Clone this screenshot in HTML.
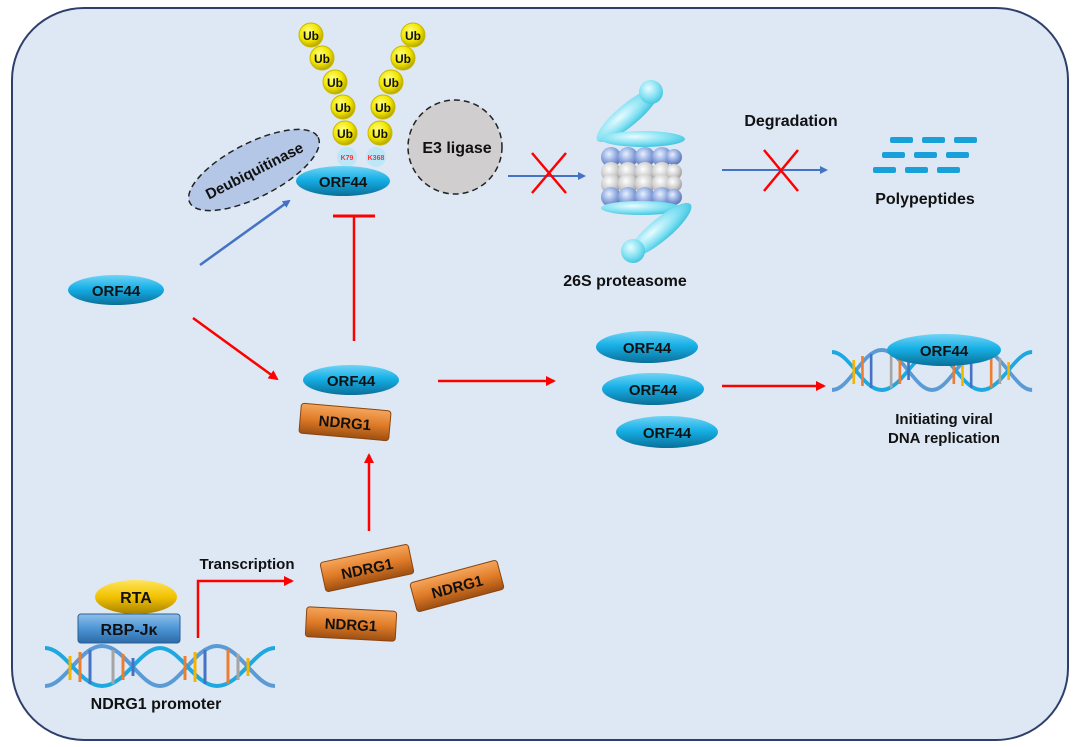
<!DOCTYPE html>
<html><head><meta charset="utf-8"><style>
html,body{margin:0;padding:0;background:#fff}
svg{display:block}
text{font-family:"Liberation Sans",Arial,sans-serif;font-weight:bold}
</style></head><body>
<svg width="1080" height="747" viewBox="0 0 1080 747" xmlns="http://www.w3.org/2000/svg">
<defs>
<radialGradient id="ub" cx="40%" cy="35%" r="65%"><stop offset="0" stop-color="#ffff80"/><stop offset="0.6" stop-color="#f2e600"/><stop offset="1" stop-color="#b8a800"/></radialGradient>
<linearGradient id="orf" x1="0" y1="0" x2="0" y2="1"><stop offset="0" stop-color="#6fd3f5"/><stop offset="0.45" stop-color="#17b0e6"/><stop offset="1" stop-color="#0a6f99"/></linearGradient>
<linearGradient id="nd" x1="0" y1="0" x2="0" y2="1"><stop offset="0" stop-color="#f5a55c"/><stop offset="0.5" stop-color="#e07b28"/><stop offset="1" stop-color="#9c4f12"/></linearGradient>
<linearGradient id="rta" x1="0" y1="0" x2="0" y2="1"><stop offset="0" stop-color="#ffe45c"/><stop offset="0.5" stop-color="#f2c200"/><stop offset="1" stop-color="#a88200"/></linearGradient>
<linearGradient id="rbp" x1="0" y1="0" x2="0" y2="1"><stop offset="0" stop-color="#8fc0ea"/><stop offset="0.5" stop-color="#4d95d6"/><stop offset="1" stop-color="#2c6aa6"/></linearGradient>
<radialGradient id="ball" cx="40%" cy="35%" r="65%"><stop offset="0" stop-color="#e8f0ff"/><stop offset="0.6" stop-color="#8ca6dd"/><stop offset="1" stop-color="#5e78b8"/></radialGradient>
<radialGradient id="gball" cx="40%" cy="35%" r="65%"><stop offset="0" stop-color="#ffffff"/><stop offset="0.6" stop-color="#d0d0d0"/><stop offset="1" stop-color="#a0a0a0"/></radialGradient>
<radialGradient id="cy" cx="40%" cy="35%" r="70%"><stop offset="0" stop-color="#e8fbff"/><stop offset="0.6" stop-color="#7fe0f2"/><stop offset="1" stop-color="#3cc2dd"/></radialGradient>
<marker id="ab" markerWidth="8" markerHeight="8" refX="6" refY="4" orient="auto" markerUnits="userSpaceOnUse"><path d="M0,0 L8,4 L0,8 Z" fill="#4472c4"/></marker>
<marker id="ar" markerWidth="10" markerHeight="10" refX="8" refY="5" orient="auto" markerUnits="userSpaceOnUse"><path d="M0,0 L10,5 L0,10 Z" fill="#ff0000"/></marker>
<g id="dna">
 <path d="M0,40 C20,40 35,0 57,0 C80,0 95,40 115,40 C135,40 150,0 172,0 C195,0 210,40 230,40" fill="none" stroke="#5b9bd5" stroke-width="4"/>
 <path d="M0,2 C20,2 35,40 57,40 C80,40 95,2 115,2 C135,2 150,40 172,40 C195,40 210,2 230,2" fill="none" stroke="#1fa8e0" stroke-width="4"/>
 <g stroke-width="3">
  <line x1="25" y1="10" x2="25" y2="34" stroke="#f4b400"/><line x1="35" y1="6" x2="35" y2="36" stroke="#ed7d31"/>
  <line x1="45" y1="4" x2="45" y2="38" stroke="#4472c4"/><line x1="68" y1="4" x2="68" y2="38" stroke="#a5a5a5"/>
  <line x1="78" y1="8" x2="78" y2="34" stroke="#ed7d31"/><line x1="88" y1="12" x2="88" y2="30" stroke="#4472c4"/>
  <line x1="140" y1="10" x2="140" y2="34" stroke="#ed7d31"/><line x1="150" y1="6" x2="150" y2="36" stroke="#f4b400"/>
  <line x1="160" y1="4" x2="160" y2="38" stroke="#4472c4"/><line x1="183" y1="4" x2="183" y2="38" stroke="#ed7d31"/>
  <line x1="193" y1="8" x2="193" y2="34" stroke="#a5a5a5"/><line x1="203" y1="12" x2="203" y2="30" stroke="#f4b400"/>
 </g>
</g>
</defs>
<rect x="12" y="8" width="1056" height="732" rx="72" fill="#dde8f4" stroke="#2f3f6b" stroke-width="2"/>

<!-- Ub chains -->
<g font-size="12" text-anchor="middle">
<g fill="url(#ub)" stroke="#c9b800" stroke-width="1">
<circle cx="311" cy="35" r="12"/><circle cx="322" cy="58" r="12"/><circle cx="335" cy="82" r="12"/><circle cx="343" cy="107" r="12"/><circle cx="345" cy="133" r="12"/>
<circle cx="413" cy="35" r="12"/><circle cx="403" cy="58" r="12"/><circle cx="391" cy="82" r="12"/><circle cx="383" cy="107" r="12"/><circle cx="380" cy="133" r="12"/>
</g>
<g fill="#111">
<text x="311" y="40">Ub</text><text x="322" y="63">Ub</text><text x="335" y="87">Ub</text><text x="343" y="112">Ub</text><text x="345" y="138">Ub</text>
<text x="413" y="40">Ub</text><text x="403" y="63">Ub</text><text x="391" y="87">Ub</text><text x="383" y="112">Ub</text><text x="380" y="138">Ub</text>
</g>
</g>
<!-- deubiquitinase -->
<ellipse cx="254" cy="170" rx="72" ry="27" transform="rotate(-27 254 170)" fill="#b4c7e7" stroke="#222" stroke-width="1.5" stroke-dasharray="6,4"/>
<text x="254" y="176" font-size="15" text-anchor="middle" fill="#111" transform="rotate(-27 254 170)">Deubiquitinase</text>
<circle cx="455" cy="147" r="47" fill="#d0cece" stroke="#222" stroke-width="1.5" stroke-dasharray="6,4"/>
<text x="457" y="153" font-size="16" text-anchor="middle" fill="#111">E3 ligase</text>
<circle cx="347" cy="157" r="10" fill="#bfe6f7"/><circle cx="376" cy="157" r="10" fill="#bfe6f7"/>
<ellipse cx="343" cy="181" rx="47" ry="15" fill="url(#orf)"/>
<text x="347" y="160" font-size="7" fill="#ff3030" text-anchor="middle">K79</text>
<text x="376" y="160" font-size="7" fill="#ff3030" text-anchor="middle">K368</text>
<text x="343" y="187" font-size="15" text-anchor="middle" fill="#111">ORF44</text>

<!-- arrows top -->
<line x1="200" y1="265" x2="289" y2="201" stroke="#4472c4" stroke-width="2.5" marker-end="url(#ab)"/>
<line x1="354" y1="341" x2="354" y2="216" stroke="#ff0000" stroke-width="2.5"/>
<line x1="333" y1="216" x2="375" y2="216" stroke="#ff0000" stroke-width="3"/>
<line x1="508" y1="176" x2="584" y2="176" stroke="#4472c4" stroke-width="2" marker-end="url(#ab)"/>
<path d="M532,153 L566,193 M566,153 L532,193" stroke="#ff0000" stroke-width="2.5"/>
<line x1="722" y1="170" x2="826" y2="170" stroke="#4472c4" stroke-width="2" marker-end="url(#ab)"/>
<path d="M764,150 L798,191 M798,150 L764,191" stroke="#ff0000" stroke-width="2.5"/>

<!-- proteasome -->
<ellipse cx="628" cy="115" rx="40" ry="11" transform="rotate(-40 628 115)" fill="url(#cy)"/>
<circle cx="651" cy="92" r="12" fill="url(#cy)"/>
<ellipse cx="643" cy="139" rx="42" ry="8" fill="url(#cy)"/>
<g fill="url(#ball)">
<circle cx="611" cy="157" r="10"/><circle cx="628" cy="157" r="10"/><circle cx="645" cy="157" r="10"/><circle cx="662" cy="157" r="10"/><circle cx="674" cy="157" r="8"/>
</g>
<g fill="url(#gball)">
<circle cx="611" cy="172" r="10"/><circle cx="628" cy="172" r="10"/><circle cx="645" cy="172" r="10"/><circle cx="662" cy="172" r="10"/><circle cx="674" cy="172" r="8"/>
<circle cx="611" cy="184" r="10"/><circle cx="628" cy="184" r="10"/><circle cx="645" cy="184" r="10"/><circle cx="662" cy="184" r="10"/><circle cx="674" cy="184" r="8"/>
</g>
<g fill="url(#ball)">
<circle cx="611" cy="197" r="10"/><circle cx="628" cy="197" r="10"/><circle cx="645" cy="197" r="10"/><circle cx="662" cy="197" r="10"/><circle cx="674" cy="197" r="8"/>
</g>
<ellipse cx="641" cy="208" rx="40" ry="7" fill="url(#cy)"/>
<ellipse cx="660" cy="230" rx="40" ry="11" transform="rotate(-40 660 230)" fill="url(#cy)"/>
<circle cx="633" cy="251" r="12" fill="url(#cy)"/>
<text x="625" y="286" font-size="16" text-anchor="middle" fill="#111">26S  proteasome</text>
<text x="791" y="126" font-size="16" text-anchor="middle" fill="#111">Degradation</text>
<g fill="#1aa0d8">
<rect x="890" y="137" width="23" height="6" rx="2"/><rect x="922" y="137" width="23" height="6" rx="2"/><rect x="954" y="137" width="23" height="6" rx="2"/>
<rect x="882" y="152" width="23" height="6" rx="2"/><rect x="914" y="152" width="23" height="6" rx="2"/><rect x="946" y="152" width="23" height="6" rx="2"/>
<rect x="873" y="167" width="23" height="6" rx="2"/><rect x="905" y="167" width="23" height="6" rx="2"/><rect x="937" y="167" width="23" height="6" rx="2"/>
</g>
<text x="925" y="204" font-size="16" text-anchor="middle" fill="#111">Polypeptides</text>

<!-- left ORF44 -->
<ellipse cx="116" cy="290" rx="48" ry="15" fill="url(#orf)"/>
<text x="116" y="296" font-size="15" text-anchor="middle" fill="#111">ORF44</text>
<line x1="193" y1="318" x2="277" y2="379" stroke="#ff0000" stroke-width="2.5" marker-end="url(#ar)"/>

<!-- middle complex -->
<ellipse cx="351" cy="380" rx="48" ry="15" fill="url(#orf)"/>
<text x="351" y="386" font-size="15" text-anchor="middle" fill="#111">ORF44</text>
<g transform="rotate(5 345 422)"><rect x="300" y="407" width="90" height="30" rx="3" fill="url(#nd)" stroke="#8a4510"/><text x="345" y="428" font-size="15" text-anchor="middle" fill="#111">NDRG1</text></g>
<line x1="438" y1="381" x2="554" y2="381" stroke="#ff0000" stroke-width="2.5" marker-end="url(#ar)"/>

<!-- stack -->
<ellipse cx="647" cy="347" rx="51" ry="16" fill="url(#orf)"/><text x="647" y="353" font-size="15" text-anchor="middle" fill="#111">ORF44</text>
<ellipse cx="653" cy="389" rx="51" ry="16" fill="url(#orf)"/><text x="653" y="395" font-size="15" text-anchor="middle" fill="#111">ORF44</text>
<ellipse cx="667" cy="432" rx="51" ry="16" fill="url(#orf)"/><text x="667" y="438" font-size="15" text-anchor="middle" fill="#111">ORF44</text>
<line x1="722" y1="386" x2="824" y2="386" stroke="#ff0000" stroke-width="2.5" marker-end="url(#ar)"/>

<!-- right DNA -->
<g transform="translate(832,350) scale(0.87,1)"><use href="#dna"/></g>
<ellipse cx="944" cy="350" rx="57" ry="16" fill="url(#orf)"/>
<text x="944" y="356" font-size="15" text-anchor="middle" fill="#111">ORF44</text>
<text x="944" y="424" font-size="15" text-anchor="middle" fill="#111">Initiating viral</text>
<text x="944" y="443" font-size="15" text-anchor="middle" fill="#111">DNA replication</text>

<!-- up arrow -->
<line x1="369" y1="531" x2="369" y2="455" stroke="#ff0000" stroke-width="2.5" marker-end="url(#ar)"/>

<!-- NDRG1 boxes -->
<g transform="rotate(-12 367 568)"><rect x="322" y="553" width="90" height="30" rx="3" fill="url(#nd)" stroke="#8a4510"/><text x="367" y="574" font-size="15" text-anchor="middle" fill="#111">NDRG1</text></g>
<g transform="rotate(-15 457 586)"><rect x="412" y="571" width="90" height="30" rx="3" fill="url(#nd)" stroke="#8a4510"/><text x="457" y="592" font-size="15" text-anchor="middle" fill="#111">NDRG1</text></g>
<g transform="rotate(3 351 624)"><rect x="306" y="609" width="90" height="30" rx="3" fill="url(#nd)" stroke="#8a4510"/><text x="351" y="630" font-size="15" text-anchor="middle" fill="#111">NDRG1</text></g>

<!-- promoter -->
<text x="247" y="569" font-size="15" text-anchor="middle" fill="#111">Transcription</text>
<path d="M198,638 L198,581 L292,581" fill="none" stroke="#ff0000" stroke-width="2.5" marker-end="url(#ar)"/>
<g transform="translate(45,646)"><use href="#dna"/></g>
<rect x="78" y="614" width="102" height="29" rx="3" fill="url(#rbp)" stroke="#2c5f93"/>
<text x="129" y="635" font-size="16" text-anchor="middle" fill="#111">RBP-Jκ</text>
<ellipse cx="136" cy="597" rx="41" ry="17" fill="url(#rta)"/>
<text x="136" y="603" font-size="16" text-anchor="middle" fill="#111">RTA</text>
<text x="156" y="709" font-size="16" text-anchor="middle" fill="#111">NDRG1 promoter</text>
</svg>
</body></html>
